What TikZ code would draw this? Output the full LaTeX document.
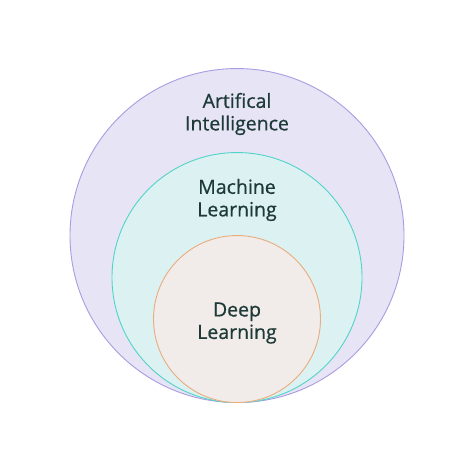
\documentclass[tikz,border=0pt]{standalone}
\usepackage{fontspec}
\setmainfont{Open Sans}
\newfontfamily\lblfont[FakeBold=0.7]{Open Sans}
\usetikzlibrary{positioning}
\definecolor{aiedge}{HTML}{A99CE0}
\definecolor{aifill}{HTML}{E7E4F6}
\definecolor{mledge}{HTML}{52D3C8}
\definecolor{mlfill}{HTML}{DCF2F2}
\definecolor{dledge}{HTML}{E9AC7C}
\definecolor{dlfill}{HTML}{F1ECE9}
\definecolor{labeltext}{HTML}{1E3A38}

\begin{document}
\begin{tikzpicture}[x=1pt, y=1pt,
  ring/.style={circle, line width=0.9pt, inner sep=0pt, anchor=south},
  lbl/.style={align=center, font=\lblfont\fontsize{19.5}{22.5}\selectfont, text=labeltext}
]
\useasboundingbox (0,0) rectangle (474,474);
\coordinate (base) at (237,71);
\node[ring, draw=aiedge, fill=aifill, minimum size=334pt] (ai) at (base) {};
\node[ring, draw=mledge, fill=mlfill, minimum size=250pt] (ml) at (base) {};
\node[ring, draw=dledge, fill=dlfill, minimum size=167pt] (dl) at (base) {};
\node[lbl] (ailbl) at (237,360) {Artifical\\Intelligence};
\node[lbl] (mllbl) at (237,274) {Machine\\Learning};
\node[lbl] (dllbl) at ([yshift=-4pt]dl.center) {Deep\\Learning};
\end{tikzpicture}
\end{document}
